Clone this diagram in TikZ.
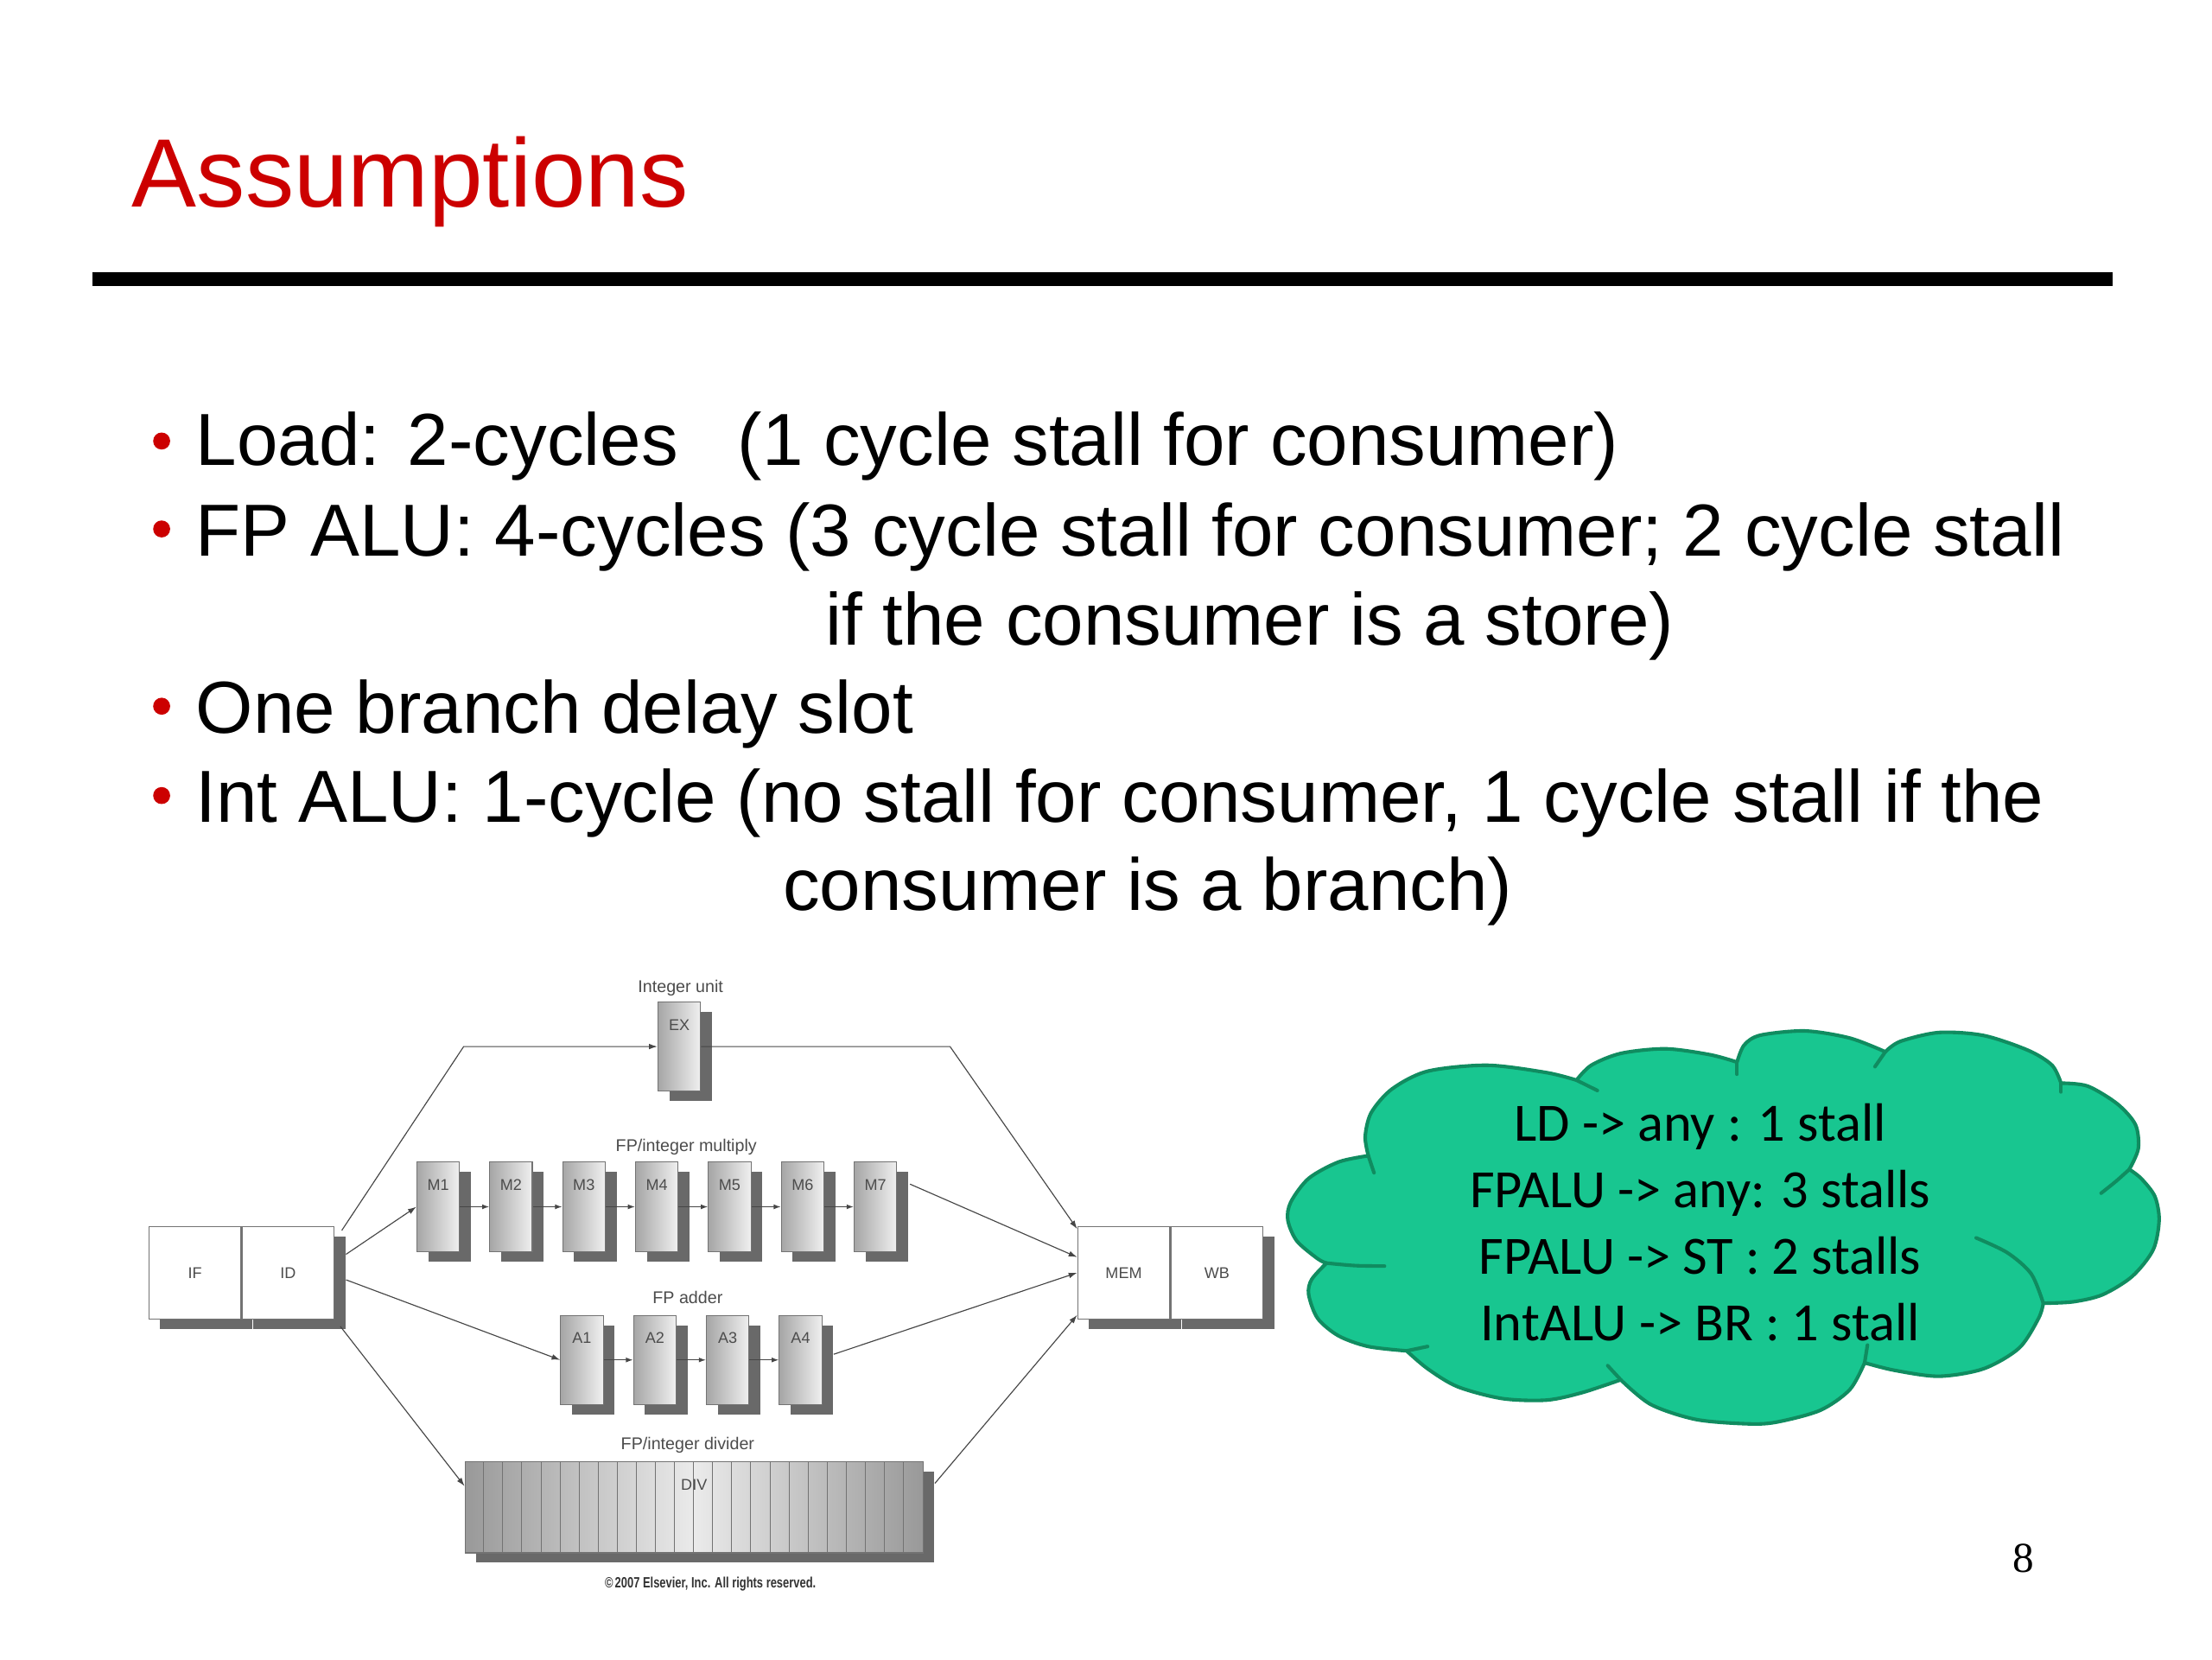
\documentclass[tikz,border=0pt]{standalone}
\usepackage{fontspec}
\usepackage{graphicx}
\setmainfont{Liberation Sans}
\newfontfamily\cloudfont{Carlito}
\newfontfamily\pagefont{Liberation Serif}
\usetikzlibrary{positioning,arrows.meta,shadows}

\definecolor{titlered}{RGB}{204,0,0}
\definecolor{cloudgreen}{RGB}{24,198,144}
\definecolor{cloudedge}{RGB}{16,140,96}
\definecolor{linegray}{RGB}{70,70,70}
\definecolor{shadowgray}{RGB}{105,105,105}

\tikzset{
  stagebox/.style={draw=black!55, line width=0.7pt, left color=black!35, right color=black!6,
    minimum width=30pt, minimum height=63pt, inner sep=0pt, text height=20pt, text depth=43pt,
    font=\fontsize{11}{11}\selectfont, text=black!70,
    drop shadow={shadow xshift=8pt, shadow yshift=-7pt, fill=shadowgray, opacity=1}},
  pairbox/.style={draw=black!55, line width=0.7pt, fill=white, minimum width=65pt, minimum height=65pt,
    inner sep=0pt, font=\fontsize{11}{11}\selectfont, text=black!70,
    drop shadow={shadow xshift=8pt, shadow yshift=-7pt, fill=shadowgray, opacity=1}},
  unitlabel/.style={font=\fontsize{12}{12}\selectfont, text=black!70, inner sep=0pt},
  conn/.style={draw=linegray, line width=0.7pt, -{Latex[length=6pt,width=4pt]}},
  shortconn/.style={draw=linegray, line width=0.7pt, -{Latex[length=5pt,width=3.5pt]}},
  bulletline/.style={anchor=base west, inner sep=0pt, font=\fontsize{52}{62}\selectfont},
  bulletdot/.style={circle, fill=titlered, inner sep=0pt, minimum size=12pt},
  cloudline/.style={draw=cloudedge, line width=2.5pt, line join=round},
  crease/.style={draw=cloudedge, line width=2.5pt, line cap=round},
}

\begin{document}
\begin{tikzpicture}[x=1pt,y=-1pt]
  \fill[white] (0,0) rectangle (1560,1170);
  \useasboundingbox (0,0) rectangle (1560,1170);

  % heading
  \node[anchor=base west, inner sep=0pt, text=titlered, font=\fontsize{68.5}{68.5}\selectfont] (title) at (93,146) {Assumptions};
  \draw[line width=10pt] (65,197) -- (1490,197);

  % bullets
  \node[bulletdot] (dot1) at (114,311) {};
  \node[bulletline] (load) at (138,328) {Load: 2-cycles\hspace{42pt}(1 cycle stall for consumer)};
  \node[bulletdot] (dot2) at (114,373) {};
  \node[bulletline] (fpalu) at (138,392) {FP ALU: 4-cycles (3 cycle stall for consumer; 2 cycle stall};
  \node[bulletline] (fpalutail) at (582,455) {if the consumer is a store)};
  \node[bulletdot] (dot3) at (114,498) {};
  \node[bulletline] (branch) at (138,517) {One branch delay slot};
  \node[bulletdot] (dot4) at (114,561) {};
  \node[bulletline] (intalu) at (138,580) {Int ALU: 1-cycle (no stall for consumer, 1 cycle stall if the};
  \node[bulletline] (intalutail) at (552,642) {consumer is a branch)};

  % pipeline
  \node[pairbox] (if) at (137.5,897.5) {IF};
  \node[pairbox, right=0pt of if] (id) {ID};

  \node[unitlabel] (intlbl) at (480,697) {Integer unit};
  \node[stagebox] (ex) at (479,738) {EX};

  \node[unitlabel] (mullbl) at (484,809) {FP/integer multiply};
  \node[stagebox] (m1) at (309,851) {M1};
  \node[stagebox, right=20.7pt of m1] (m2) {M2};
  \node[stagebox, right=20.7pt of m2] (m3) {M3};
  \node[stagebox, right=20.7pt of m3] (m4) {M4};
  \node[stagebox, right=20.7pt of m4] (m5) {M5};
  \node[stagebox, right=20.7pt of m5] (m6) {M6};
  \node[stagebox, right=20.7pt of m6] (m7) {M7};

  \node[unitlabel] (addlbl) at (485,915) {FP adder};
  \node[stagebox] (a1) at (410.4,959) {A1};
  \node[stagebox, right=20.7pt of a1] (a2) {A2};
  \node[stagebox, right=20.7pt of a2] (a3) {A3};
  \node[stagebox, right=20.7pt of a3] (a4) {A4};

  \node[unitlabel] (divlbl) at (485,1019) {FP/integer divider};
  \node[stagebox, minimum width=323pt, minimum height=64pt, text depth=44pt,
    left color=black!40, right color=black!40, middle color=black!8] (div) at (489.5,1063) {DIV};
  \foreach \k in {1,...,23}
    \draw[black!55, line width=0.6pt] ([xshift=\k*13.458pt]div.north west) -- ([xshift=\k*13.458pt]div.south west);

  \node[pairbox] (mem) at (792.5,897.5) {MEM};
  \node[pairbox, right=0pt of mem] (wb) {WB};

  \coordinate (exin) at (327,738);
  \coordinate (exout) at (670,738);

  \draw[conn] ([xshift=5pt,yshift=-3pt]id.north east) -- (exin) -- (ex.west);
  \draw[conn] (ex.east) -- (exout) -- ([yshift=-2pt]mem.north west);

  \draw[conn] ([xshift=8pt,yshift=13pt]id.east) -- (m1.west);
  \draw[shortconn] (m1.east) -- (m2.west);
  \draw[shortconn] (m2.east) -- (m3.west);
  \draw[shortconn] (m3.east) -- (m4.west);
  \draw[shortconn] (m4.east) -- (m5.west);
  \draw[shortconn] (m5.east) -- (m6.west);
  \draw[shortconn] (m6.east) -- (m7.west);
  \draw[conn] ([xshift=9pt,yshift=16pt]m7.east) -- ([yshift=11pt]mem.west);

  \draw[conn] ([xshift=8pt,yshift=-5pt]id.east) -- (a1.west);
  \draw[shortconn] (a1.east) -- (a2.west);
  \draw[shortconn] (a2.east) -- (a3.west);
  \draw[shortconn] (a3.east) -- (a4.west);
  \draw[conn] ([xshift=8pt,yshift=4pt]a4.east) -- (mem.west);

  \draw[conn] ([xshift=4pt,yshift=-5pt]id.south east) -- ([yshift=15pt]div.west);
  \draw[conn] ([xshift=8pt,yshift=17pt]div.east) -- ([yshift=3pt]mem.south west);

  \node[font=\bfseries\fontsize{10.5}{10.5}\selectfont, text=black!80, inner sep=0pt] (rights) at (501,1117)
    {\scalebox{0.75}[1]{\textcopyright\,2007 Elsevier, Inc. All rights reserved.}};

  % stall summary cloud
  \filldraw[cloudline, fill=cloudgreen]
    plot[smooth] coordinates {(965,815) (944,819.4) (922.9,831) (910.3,847.7) (908.2,860.3) (914.5,875) (929.2,887.6) (935.5,890.7)}
    -- plot[smooth] coordinates {(935.5,890.7) (925,902.3) (922.9,912.8) (929.2,929.6) (944,942) (964.9,949.5) (992,952.6)}
    -- plot[smooth] coordinates {(992,952.6) (1006.8,965.2) (1027.8,977.8) (1059.3,986.2) (1090.8,987.3) (1115.9,982) (1143,973)}
    -- plot[smooth] coordinates {(1143,973) (1164.2,990.4) (1195.7,1000.9) (1231,1004) (1252,1003) (1283.5,994.6) (1304.5,980) (1315,961)}
    -- plot[smooth] coordinates {(1315,961) (1336,966.3) (1367.4,970.5) (1398.9,965.2) (1424,950.6) (1437.7,929.6) (1441,919)}
    -- plot[smooth] coordinates {(1441,919) (1462,918) (1482.8,913) (1503.8,900) (1518.5,881.3) (1522.7,860.3) (1519.6,843.5) (1510,831) (1501.7,824.6)}
    -- plot[smooth] coordinates {(1501.7,824.6) (1508,810) (1506,793.1) (1493.3,778.5) (1472.3,765.9) (1453.5,763.8)}
    -- plot[smooth] coordinates {(1453.5,763.8) (1447.2,751.2) (1430.4,740.7) (1398.9,730.2) (1367.4,728.1) (1340.1,734.4) (1329.6,741.7)}
    -- plot[smooth] coordinates {(1329.6,741.7) (1304.5,732) (1273,727) (1241.5,730) (1230,737) (1225,749)}
    -- plot[smooth] coordinates {(1225,749) (1206.2,743.8) (1174.7,739.6) (1143.2,742.8) (1122.2,751.2) (1111.8,761.7)}
    -- plot[smooth] coordinates {(1111.8,761.7) (1090.8,756.4) (1048.8,751.2) (1006.8,755.4) (981.6,768) (967,784.7) (962.8,801.5) (965,815)}
    -- cycle;
  \draw[crease] (965,815) -- (969,827);
  \draw[crease] plot[smooth] coordinates {(935.5,890.7) (956,892.5) (976.4,892.8)};
  \draw[crease] (992,952.6) -- (1006.8,949.5);
  \draw[crease] (1143,973) -- (1133.8,963);
  \draw[crease] (1315,961) -- (1317,948.5);
  \draw[crease] plot[smooth] coordinates {(1441,919) (1432.5,898.3) (1415.7,883.4) (1393.6,872.9)};
  \draw[crease] plot[smooth] coordinates {(1501.7,824.6) (1492.3,833) (1481.8,841.4)};
  \draw[crease] (1453.5,763.8) -- (1453.5,770);
  \draw[crease] (1329.6,741.7) -- (1322.3,752.2);
  \draw[crease] (1225,749) -- (1225,757.5);
  \draw[crease] (1111.8,761.7) -- (1126.5,769);

  \node[align=center, font=\cloudfont\fontsize{38}{47}\selectfont, inner sep=0pt] (rules) at (1199,862)
    {LD -> any : 1 stall\\FPALU -> any: 3 stalls\\FPALU -> ST : 2 stalls\\IntALU -> BR : 1 stall};

  \node[font=\pagefont\fontsize{30}{30}\selectfont, inner sep=0pt] (pagenum) at (1427,1099) {8};
\end{tikzpicture}
\end{document}
